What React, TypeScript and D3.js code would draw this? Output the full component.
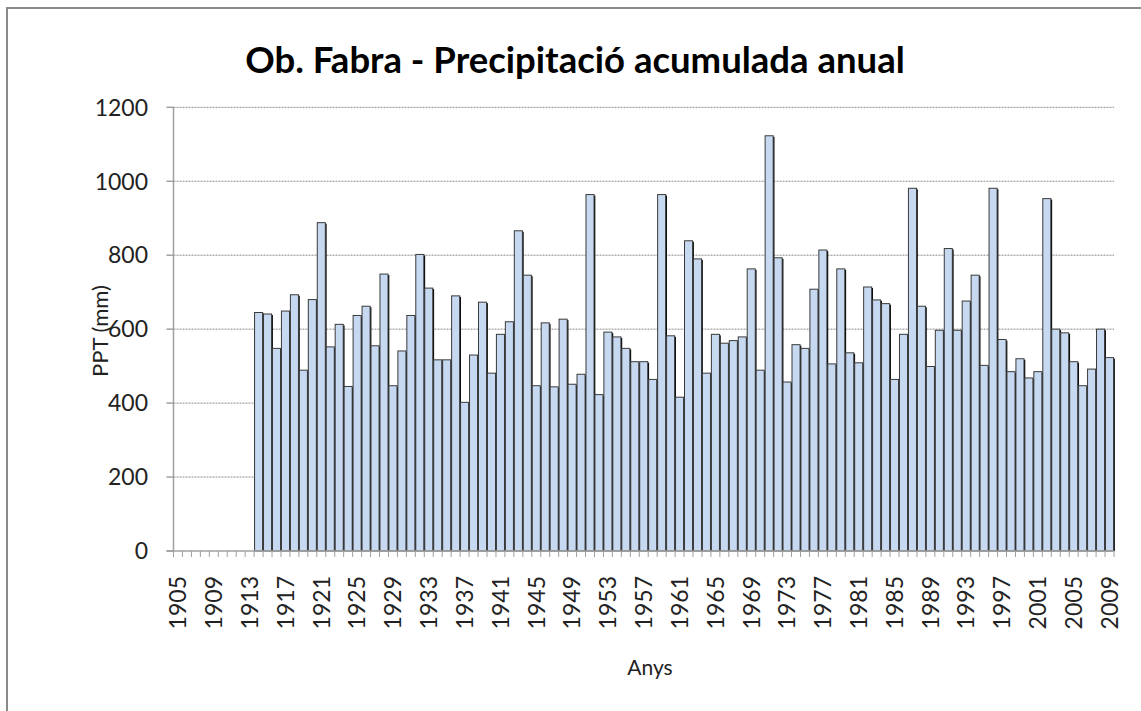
import React from "react";
import * as d3 from "d3";

const TITLE = "Ob. Fabra - Precipitació acumulada anual";
const Y_TITLE = "PPT (mm)";
const X_TITLE = "Anys";

const FIRST_YEAR = 1905;
const LAST_YEAR = 2009;
const years: number[] = d3.range(FIRST_YEAR, LAST_YEAR + 1);

// Annual precipitation (mm), 1905..2009 (no data before 1914)
const precip: (number | null)[] = [
  null, null, null, null, null, null, null, null, null,
  645, 641, 548, 649, 693, 489, 680, 888, 552, 613,
  445, 637, 662, 555, 749, 447, 541, 637, 802, 711,
  517, 517, 690, 402, 530, 673, 481, 586, 620, 866,
  746, 447, 617, 444, 627, 451, 478, 964, 423, 592,
  579, 548, 512, 512, 464, 964, 582, 416, 839, 790,
  481, 586, 562, 569, 579, 763, 489, 1123, 793, 457,
  558, 548, 708, 814, 506, 763, 536, 509, 714, 679,
  669, 464, 586, 981, 662, 499, 597, 818, 597, 676,
  746, 502, 981, 572, 485, 520, 468, 485, 953, 600,
  590, 512, 447, 492, 600, 523,
];

const yTicks = [0, 200, 400, 600, 800, 1000, 1200];
const xLabelYears = years.filter((y) => (y - FIRST_YEAR) % 4 === 0);

const FONT = "Lato, 'Open Sans', sans-serif";

export default function App() {
  const W = 1141;
  const H = 711;
  const left = 173.5;
  const right = 1114;
  const top = 107.3;
  const bottom = 551;

  const x = d3
    .scaleBand<number>()
    .domain(years)
    .range([left, right])
    .paddingInner(0.1)
    .paddingOuter(0.05);
  const step = (right - left) / years.length;
  const y = d3.scaleLinear().domain([0, 1200]).range([bottom, top]);

  const boundaries = d3.range(years.length + 1).map((i) => left + i * step);

  return (
    <svg
      width={W}
      height={H}
      style={{ position: "absolute", left: 0, top: 0, background: "#fff" }}
    >
      <rect x={0} y={0} width={W} height={H} fill="#fff" />
      <path d={`M7,${H} L7,8 L${W},8`} fill="none" stroke="#8a8a8a" strokeWidth={2} />

      <text
        x={575}
        y={73}
        textAnchor="middle"
        fontFamily={FONT}
        fontWeight="bold"
        fontSize={36.5}
        fill="#000"
      >
        {TITLE}
      </text>

      {/* gridlines */}
      {yTicks
        .filter((t) => t > 0)
        .map((t) => (
          <line
            key={"g" + t}
            x1={left}
            x2={right}
            y1={y(t)}
            y2={y(t)}
            stroke="#8c8c8c"
            strokeWidth={1}
            strokeDasharray="2,1"
          />
        ))}

      {/* bars */}
      {years.map((yr, i) => {
        const v = precip[i];
        if (v == null) return null;
        const bx = x(yr)!;
        const bw = x.bandwidth();
        return (
          <g key={"b" + yr}>
            <rect x={bx + 1.3} y={y(v) + 1} width={bw} height={bottom - y(v) - 1} fill="#000" />
            <rect
              x={bx}
              y={y(v)}
              width={bw}
              height={bottom - y(v)}
              fill="#c6d9f1"
              stroke="#3a3a3a"
              strokeWidth={1}
            />
          </g>
        );
      })}

      {/* y axis */}
      <line x1={left} x2={left} y1={top} y2={bottom} stroke="#a0a0a0" strokeWidth={1.5} />
      {yTicks.map((t) => (
        <g key={"yt" + t}>
          <line x1={left - 7} x2={left} y1={y(t)} y2={y(t)} stroke="#a0a0a0" strokeWidth={1.5} />
          <text
            x={148}
            y={y(t)}
            dy="0.36em"
            textAnchor="end"
            fontFamily={FONT}
            fontSize={23}
            fill="#222"
          >
            {t}
          </text>
        </g>
      ))}

      {/* x axis */}
      <line x1={left - 7} x2={right} y1={bottom} y2={bottom} stroke="#a0a0a0" strokeWidth={1.5} />
      {boundaries.map((bxv, i) => (
        <line key={"xt" + i} x1={bxv} x2={bxv} y1={bottom} y2={bottom + 6} stroke="#a0a0a0" strokeWidth={1} />
      ))}
      {xLabelYears.map((yr) => {
        const cx = left + (yr - FIRST_YEAR + 0.5) * step;
        return (
          <text
            key={"xl" + yr}
            transform={`translate(${cx},576) rotate(-90)`}
            dy="0.36em"
            textAnchor="end"
            fontFamily={FONT}
            fontSize={23}
            fill="#222"
          >
            {yr}
          </text>
        );
      })}

      <text
        transform={`translate(100,331) rotate(-90)`}
        dy="0.36em"
        textAnchor="middle"
        fontFamily={FONT}
        fontSize={22}
        fill="#222"
      >
        {Y_TITLE}
      </text>
      <text x={650} y={675} textAnchor="middle" fontFamily={FONT} fontSize={21} fill="#222">
        {X_TITLE}
      </text>
    </svg>
  );
}
